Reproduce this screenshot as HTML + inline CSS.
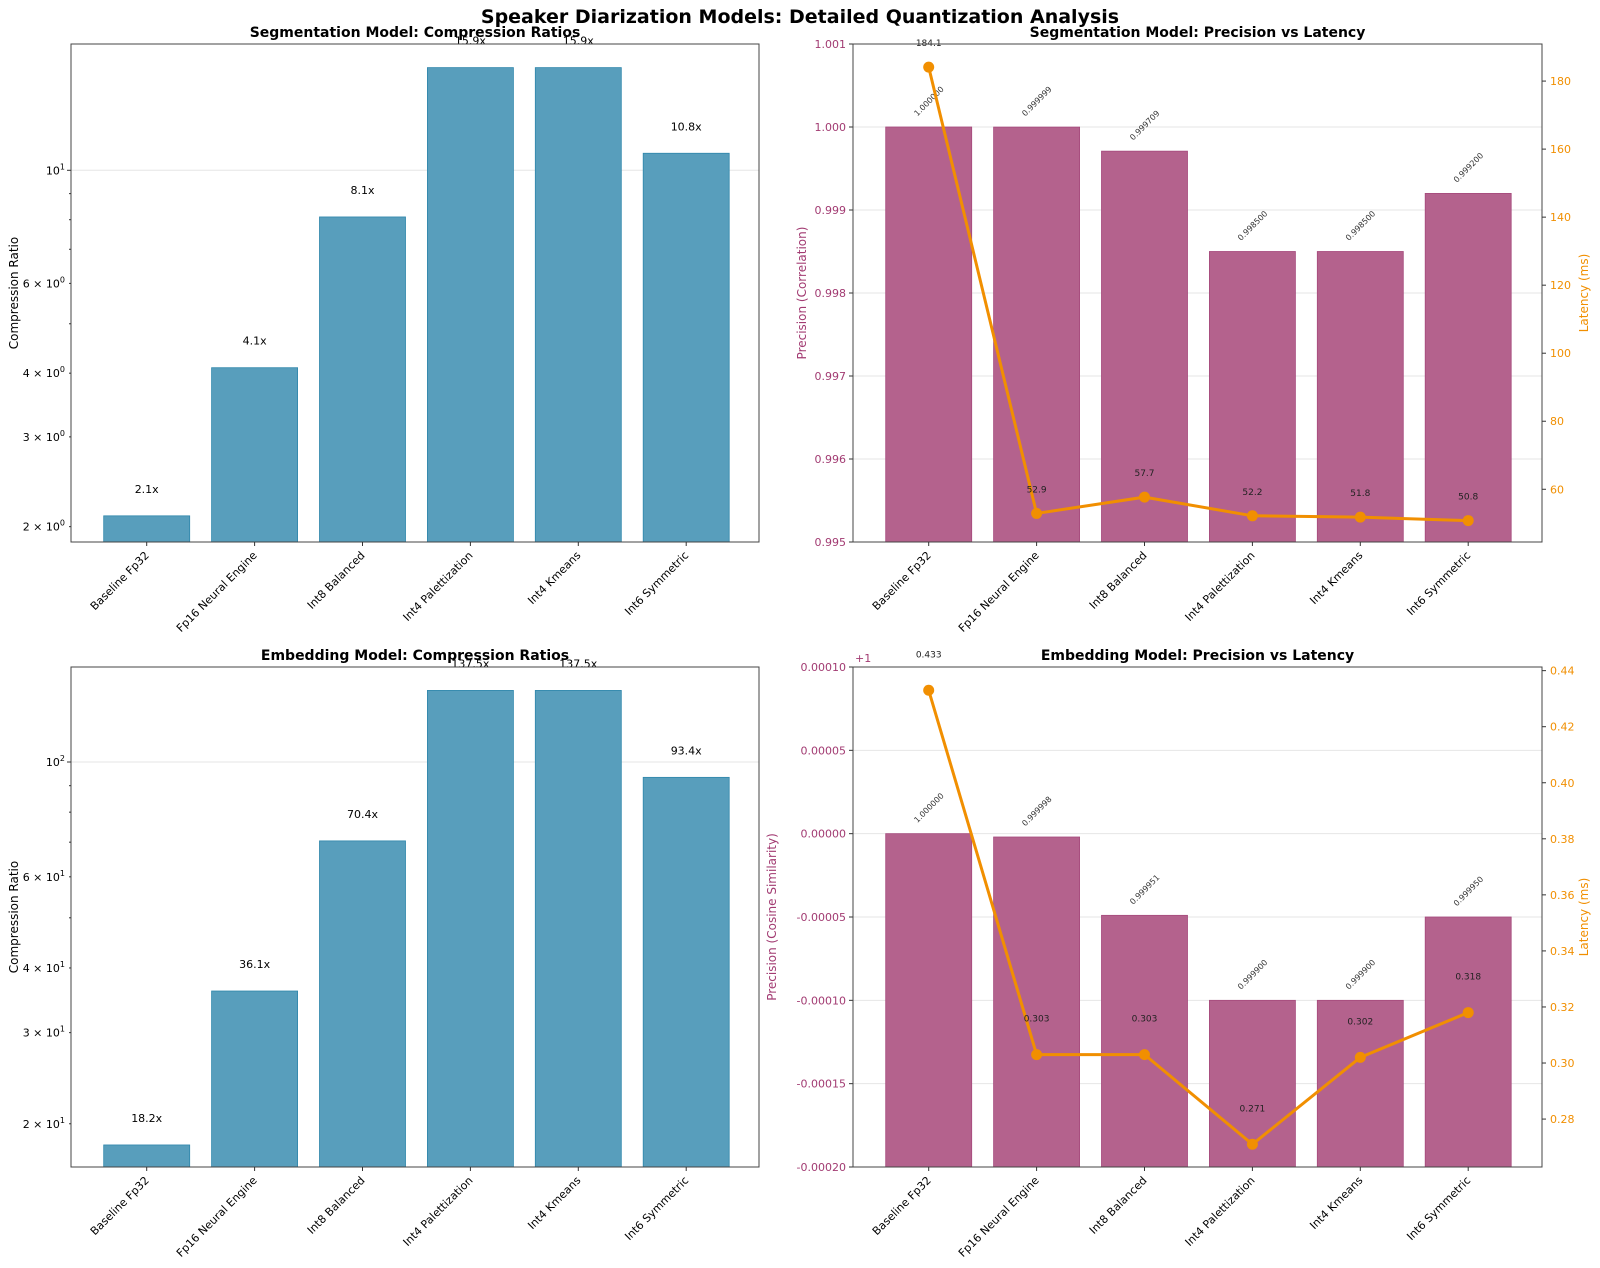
<!DOCTYPE html>
<html><head><meta charset="utf-8"><style>
html,body{margin:0;padding:0;background:#fff;}
svg{display:block;font-family:"DejaVu Sans","Liberation Sans",sans-serif;}
</style></head><body>
<svg id="fig" width="1600" height="1268" viewBox="0 0 1600 1268" xmlns="http://www.w3.org/2000/svg">
<rect width="1600" height="1268" fill="#fff"/>
<text x="800" y="23" text-anchor="middle" font-size="19" font-weight="bold">Speaker Diarization Models: Detailed Quantization Analysis</text>
</svg>
<script>
const categories = ["Baseline Fp32","Fp16 Neural Engine","Int8 Balanced","Int4 Palettization","Int4 Kmeans","Int6 Symmetric"];
const segCompression = [2.1, 4.1, 8.1, 15.9, 15.9, 10.8];
const embCompression = [18.2, 36.1, 70.4, 137.5, 137.5, 93.4];
const segPrecision = [1.000000, 0.999999, 0.999709, 0.998500, 0.998500, 0.999200];
const segLatency = [184.1, 52.9, 57.7, 52.2, 51.8, 50.8];
const embPrecision = [1.000000, 0.999998, 0.999951, 0.999900, 0.999900, 0.999950];
const embLatency = [0.433, 0.303, 0.303, 0.271, 0.302, 0.318];
const segPrecTicks = ["1.001","1.000","0.999","0.998","0.997","0.996","0.995"];
const segLatTicks = [60, 80, 100, 120, 140, 160, 180];
const embPrecTicks = ["0.00010","0.00005","0.00000","-0.00005","-0.00010","-0.00015","-0.00020"];
const embLatTicks = ["0.28","0.30","0.32","0.34","0.36","0.38","0.40","0.42","0.44"];

const NS="http://www.w3.org/2000/svg";
const svg=document.getElementById('fig');
function mk(tag,attrs,parent,text){const e=document.createElementNS(NS,tag);for(const k in attrs)e.setAttribute(k,attrs[k]);if(text!==undefined)e.textContent=text;(parent||svg).appendChild(e);return e;}
const BLUE="#589ebc",BLUEE="#2E86AB",MAG="#b4628d",MAGT="#A23B72",ORA="#F18F01";

function xScaleFor(L){return i=>L+75.7+i*107.9;}

function xLabels(g,L,B){
  const xs=xScaleFor(L);
  categories.forEach((c,i)=>{
    const x=xs(i);
    mk('line',{x1:x,x2:x,y1:B,y2:B+4,stroke:'#333'},g);
    const t=mk('text',{x:x+3,y:B+14,'text-anchor':'end','font-size':11,transform:`rotate(-45 ${x+3} ${B+14})`},g,c);
    
    
  });
}
function frame(g,L,T,R,B){mk('rect',{x:L,y:T,width:R-L,height:B-T,fill:'none',stroke:'#444','stroke-width':1},g);}

function logPanel(name,title,vals,L,T,R,B,ymin,ymax,majors,minorLabels){
  const g=mk('g',{});
  
  
  const ly=v=>B-(Math.log10(v)-Math.log10(ymin))/(Math.log10(ymax)-Math.log10(ymin))*(B-T);
  majors.forEach(m=>{const y=ly(m);mk('line',{x1:L,x2:R,y1:y,y2:y,stroke:'#e6e6e6'},g);});
  const xs=xScaleFor(L);
  vals.forEach((v,i)=>{
    const y=ly(v);
    const r=mk('rect',{x:xs(i)-43,y:y,width:86,height:B-y,fill:BLUE,stroke:BLUEE,'stroke-width':0.8},g);
    
    
    const t=mk('text',{x:xs(i),y:y-23,'text-anchor':'middle','font-size':11},g,v.toFixed(1)+'x');
    
    
  });
  frame(g,L,T,R,B);
  let d=Math.pow(10,Math.floor(Math.log10(ymin)));
  for(;d<ymax;d*=10){for(let k=1;k<10;k++){const v=k*d;if(v<ymin||v>ymax)continue;const y=ly(v);
    mk('line',{x1:L-(k===1?4:2),x2:L,y1:y,y2:y,stroke:'#333'},g);
    const e=Math.round(Math.log10(d));
    if(k===1||minorLabels.includes(k)){
      const t=mk('text',{x:L-6,y:y+4,'text-anchor':'end','font-size':11},g);
      if(k===1){mk('tspan',{},t,'10');mk('tspan',{dy:-5,'font-size':8},t,String(e));}
      else{mk('tspan',{},t,k+' × 10');mk('tspan',{dy:-5,'font-size':8},t,String(e));}
    }}}
  const cy=(T+B)/2;
  mk('text',{x:18,y:cy,'text-anchor':'middle','font-size':12,transform:`rotate(-90 18 ${cy})`},g,'Compression Ratio');
  mk('text',{x:(L+R)/2,y:T-7,'text-anchor':'middle','font-size':14,'font-weight':'bold'},g,title);
  xLabels(g,L,B);
}

function twinPanel(name,title,prec,lat,L,T,R,B,pMin,pMax,pTicks,pOff,lMin,lMax,lTicks,precLabel,latOff,offText,labX){
  const g=mk('g',{});
  
  
  const py=v=>B-(v-pMin)/(pMax-pMin)*(B-T);
  const lyy=v=>B-(v-lMin)/(lMax-lMin)*(B-T);
  const xs=xScaleFor(L);
  const clipId=name+'-clip';
  const cp=mk('clipPath',{id:clipId},g);mk('rect',{x:L,y:T,width:R-L,height:B-T},cp);
  pTicks.forEach((s,i)=>{const v=pMax-i*(pMax-pMin)/(pTicks.length-1);const y=py(v);
    mk('line',{x1:L,x2:R,y1:y,y2:y,stroke:'#e6e6e6'},g);
    mk('line',{x1:L-4,x2:L,y1:y,y2:y,stroke:'#333'},g);
    mk('text',{x:L-7,y:y+4,'text-anchor':'end','font-size':11,fill:MAGT},g,s);});
  const bg=mk('g',{'clip-path':`url(#${clipId})`},g);
  prec.forEach((v,i)=>{const y=py(v-pOff);
    const r=mk('rect',{x:xs(i)-43,y:y,width:86,height:B+50-y,fill:MAG,stroke:'#a5497c','stroke-width':0.8},bg);
    
    
    const cx=xs(i),cyy=y-26;
    const t=mk('text',{x:cx,y:cyy+3,'text-anchor':'middle','font-size':8,fill:'#333',transform:`rotate(-45 ${cx} ${cyy})`},g,v.toFixed(6));
    
    
  });
  const pts=lat.map((v,i)=>[xs(i),lyy(v)]);
  const pl=mk('polyline',{points:pts.map(p=>p.join(',')).join(' '),fill:'none',stroke:ORA,'stroke-width':3,'stroke-linejoin':'round'},g);
  
  
  pts.forEach((p,i)=>{
    const c=mk('circle',{cx:p[0],cy:p[1],r:5.5,fill:ORA},g);
    
    
    const t=mk('text',{x:p[0],y:p[1]-latOff,'text-anchor':'middle','font-size':9,fill:'#222'},g,String(lat[i]));
    
    
  });
  frame(g,L,T,R,B);
  lTicks.forEach(s=>{const y=lyy(+s);mk('line',{x1:R,x2:R+4,y1:y,y2:y,stroke:'#333'},g);
    mk('text',{x:R+8,y:y+4,'font-size':11,fill:ORA},g,String(s));});
  const cy=(T+B)/2;
  mk('text',{x:labX,y:cy,'text-anchor':'middle','font-size':12,fill:MAGT,transform:`rotate(-90 ${labX} ${cy})`},g,precLabel);
  mk('text',{x:1588,y:cy,'text-anchor':'middle','font-size':12,fill:ORA,transform:`rotate(-90 1588 ${cy})`},g,'Latency (ms)');
  if(offText)mk('text',{x:L+2,y:T-5,'font-size':11,fill:MAGT},g,offText);
  mk('text',{x:(L+R)/2,y:T-7,'text-anchor':'middle','font-size':14,'font-weight':'bold'},g,title);
  xLabels(g,L,B);
}

logPanel('seg-compression-chart','Segmentation Model: Compression Ratios',segCompression,71,44,759,542,1.866,17.69,[10],[2,3,4,6]);
logPanel('emb-compression-chart','Embedding Model: Compression Ratios',embCompression,71,667,759,1167,16.5,152.6,[100],[2,3,4,6]);
twinPanel('seg-precision-latency-chart','Segmentation Model: Precision vs Latency',segPrecision,segLatency,853,44,1542,542,0.995,1.001,segPrecTicks,0,44.5,190.9,segLatTicks,'Precision (Correlation)',21,null,806);
twinPanel('emb-precision-latency-chart','Embedding Model: Precision vs Latency',embPrecision,embLatency,853,667,1542,1167,-0.0002,0.0001,embPrecTicks,1,0.2629,0.4413,embLatTicks,'Precision (Cosine Similarity)',33,'+1',776);
</script>
</body></html>
